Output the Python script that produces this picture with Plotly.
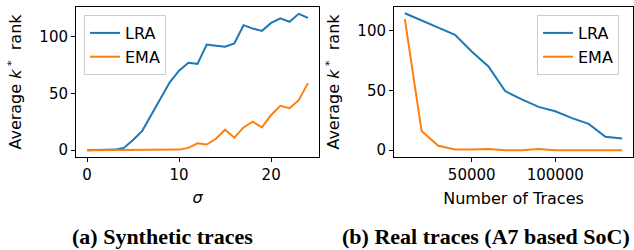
import plotly.graph_objects as go

sigma = list(range(25))
lra_syn = [0, 0, 0, 0.5, 2, 9, 17, 31, 45, 60, 70, 77, 76, 93, 92, 91, 94, 110, 107, 105, 112, 116, 113, 120, 116.5]
ema_syn = [0, 0, 0, 0, 0, 0, 0, 0, 0, 0.2, 0.5, 2, 6, 5, 10, 18, 11, 20, 25, 20, 31, 39, 37, 44, 59]

traces = [10000, 20000, 30000, 40000, 50000, 60000, 70000, 80000, 90000, 100000, 110000, 120000, 130000, 140000]
lra_real = [114.5, 108.8, 102.5, 96.5, 82.5, 70, 49.4, 42.4, 36.2, 32.5, 26.8, 22, 11.3, 9.8]
ema_real = [109.6, 16, 3.7, 0.5, 0.5, 1, 0, 0, 1, 0, 0, 0, 0, 0]

blue = "#1f77b4"
orange = "#ff7f0e"
W, H = 634, 250

fig = go.Figure()
fig.add_trace(go.Scatter(x=sigma, y=lra_syn, mode="lines", name="LRA", line=dict(color=blue, width=2), xaxis="x", yaxis="y", legend="legend"))
fig.add_trace(go.Scatter(x=sigma, y=ema_syn, mode="lines", name="EMA", line=dict(color=orange, width=2), xaxis="x", yaxis="y", legend="legend"))
fig.add_trace(go.Scatter(x=traces, y=lra_real, mode="lines", name="LRA", line=dict(color=blue, width=2), xaxis="x2", yaxis="y2", legend="legend2"))
fig.add_trace(go.Scatter(x=traces, y=ema_real, mode="lines", name="EMA", line=dict(color=orange, width=2), xaxis="x2", yaxis="y2", legend="legend2"))

def px_x(p):
    return p / W

def px_y(p):
    return 1 - p / H

font = dict(family="DejaVu Sans", size=15, color="black")
tfont = dict(family="DejaVu Sans", size=16, color="black")
axis_common = dict(showline=True, linecolor="black", linewidth=1, mirror=True, ticks="outside",
                   ticklen=4, tickcolor="black", showgrid=False, zeroline=False, tickfont=font,
                   automargin=False)
ytitle = "Average <i>k</i><sup> *</sup>  rank"

fig.update_layout(
    width=W, height=H, margin=dict(l=0, r=0, t=0, b=0, autoexpand=False),
    paper_bgcolor="white", plot_bgcolor="white", font=font,
    xaxis=dict(domain=[px_x(76), px_x(319)], range=[-1.2, 25.2], tickvals=[0, 10, 20], anchor="y",
               title=dict(text="<i>σ</i>", font=tfont, standoff=8), **axis_common),
    yaxis=dict(domain=[px_y(157), px_y(7)], range=[-6, 126], tickvals=[0, 50, 100], anchor="x",
               title=dict(text=ytitle, font=tfont, standoff=13), **axis_common),
    xaxis2=dict(domain=[px_x(394), px_x(633)], range=[3500, 146500], tickvals=[50000, 100000], anchor="y2",
                tickformat="d", title=dict(text="Number of Traces", font=tfont, standoff=9), **axis_common),
    yaxis2=dict(domain=[px_y(157), px_y(7)], range=[-5.7, 119.7], tickvals=[0, 50, 100], anchor="x2",
                title=dict(text=ytitle, font=tfont, standoff=13), **axis_common),
    legend=dict(x=px_x(84), y=px_y(15), xanchor="left", yanchor="top", bgcolor="white",
                bordercolor="#cccccc", borderwidth=1, font=tfont),
    legend2=dict(x=px_x(537), y=px_y(15), xanchor="left", yanchor="top", bgcolor="white",
                 bordercolor="#cccccc", borderwidth=1, font=tfont),
    showlegend=True,
)

cap_font = dict(family="Liberation Serif", size=22, color="black")
fig.add_annotation(text="<b>(a) Synthetic traces</b>", x=px_x(162), y=px_y(236), xref="paper", yref="paper",
                   showarrow=False, font=cap_font, xanchor="center", yanchor="middle")
fig.add_annotation(text="<b>(b) Real traces (A7 based SoC)</b>", x=px_x(486), y=px_y(236), xref="paper", yref="paper",
                   showarrow=False, font=cap_font, xanchor="center", yanchor="middle")

fig.write_html("out.html", config={"displayModeBar": False},
               post_script="document.body.style.margin='0';")
